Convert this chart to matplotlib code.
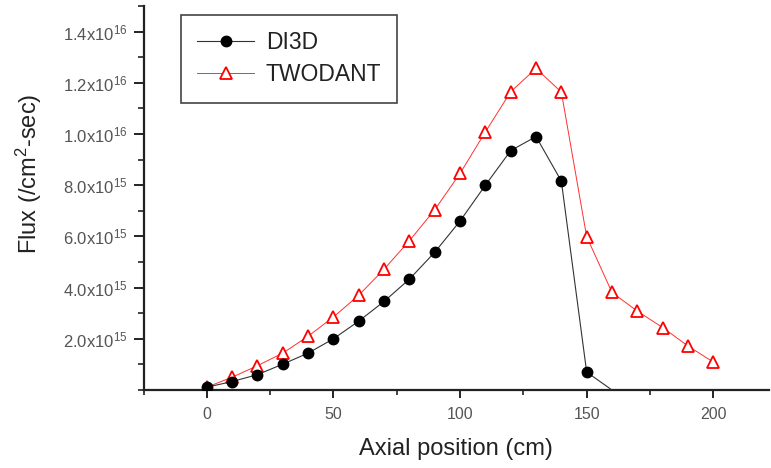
import matplotlib
matplotlib.use("Agg")
import matplotlib.pyplot as plt
from matplotlib.ticker import FixedLocator, MultipleLocator

plt.rcParams['font.family'] = ['Liberation Sans', 'DejaVu Sans']
plt.rcParams['mathtext.fontset'] = 'custom'
plt.rcParams['mathtext.rm'] = 'Liberation Sans'
plt.rcParams['mathtext.it'] = 'Liberation Sans'

# data (flux in units of 1e15 /cm^2-sec)
pos_di3d = [0, 10, 20, 30, 40, 50, 60, 70, 80, 90, 100, 110, 120, 130, 140, 150, 160]
flux_di3d = [0.11, 0.33, 0.60, 1.01, 1.44, 2.00, 2.69, 3.46, 4.33, 5.38, 6.60, 8.00, 9.35, 9.90, 8.16, 0.70, 0.0]
pos_two = [0, 10, 20, 30, 40, 50, 60, 70, 80, 90, 100, 110, 120, 130, 140, 150, 160, 170, 180, 190, 200]
flux_two = [0.11, 0.50, 0.95, 1.44, 2.10, 2.85, 3.70, 4.72, 5.83, 7.04, 8.46, 10.08, 11.65, 12.56, 11.64, 5.99, 3.81, 3.08, 2.44, 1.72, 1.09]

ytick_vals = [2.0, 4.0, 6.0, 8.0, 10.0, 12.0, 14.0]
ytick_labels = [r"2.0x10$^{15}$", r"4.0x10$^{15}$", r"6.0x10$^{15}$", r"8.0x10$^{15}$",
                r"1.0x10$^{16}$", r"1.2x10$^{16}$", r"1.4x10$^{16}$"]
xtick_vals = [0, 50, 100, 150, 200]

W, H = 771, 468
fig = plt.figure(figsize=(W / 100, H / 100), dpi=100)
ax = fig.add_axes([143.5 / W, (H - 390) / H, (769 - 143.5) / W, (390 - 6) / H])

ax.plot(pos_di3d, flux_di3d, color='#333333', lw=0.8, marker='o', markersize=7.5,
        markerfacecolor='black', markeredgecolor='black', markevery=list(range(16)),
        label='DI3D', zorder=3)
ax.plot(pos_two, flux_two, color='#ff3030', lw=0.7, marker='^', markersize=8.5,
        markerfacecolor='white', markeredgecolor='#ff0000', markeredgewidth=1.3,
        label='TWODANT', zorder=2)

ax.set_xlim(-25, 222)
ax.set_ylim(0, 15.0)

ax.spines['top'].set_visible(False)
ax.spines['right'].set_visible(False)
ax.spines['left'].set_linewidth(1.6)
ax.spines['bottom'].set_linewidth(1.6)
ax.spines['left'].set_color('#222222')
ax.spines['bottom'].set_color('#222222')

ax.xaxis.set_major_locator(FixedLocator(xtick_vals))
ax.xaxis.set_minor_locator(MultipleLocator(25))
ax.yaxis.set_major_locator(FixedLocator(ytick_vals))
ax.set_yticklabels(ytick_labels)
ax.yaxis.set_minor_locator(MultipleLocator(1.0))

ax.tick_params(axis='x', which='major', direction='out', length=6, width=1.4, color='#222222',
               labelsize=11.5, labelcolor='#555555', pad=6)
ax.tick_params(axis='x', which='minor', direction='out', length=3.5, width=1.2, color='#222222')
ax.tick_params(axis='y', which='major', direction='out', length=7.5, width=1.4, color='#222222',
               labelsize=12, labelcolor='#555555', pad=4)
ax.tick_params(axis='y', which='minor', direction='out', length=4, width=1.2, color='#222222')

ax.set_xlabel('Axial position (cm)', fontsize=17, color='#222222', labelpad=12)
ax.set_ylabel(r'Flux (/cm$^2$-sec)', fontsize=17, color='#222222')
ax.yaxis.set_label_coords(-0.159, 0.5625)

leg = ax.legend(loc='upper left', bbox_to_anchor=(0.0597, 0.977), fontsize=16.5,
                frameon=True, fancybox=False, edgecolor='#444444', framealpha=1,
                handlelength=2.5, handletextpad=0.5, borderpad=0.7, labelspacing=0.42,
                borderaxespad=0)
leg.get_frame().set_linewidth(1.2)
for t in leg.get_texts():
    t.set_color('#222222')

fig.savefig('out.png', dpi=100)
